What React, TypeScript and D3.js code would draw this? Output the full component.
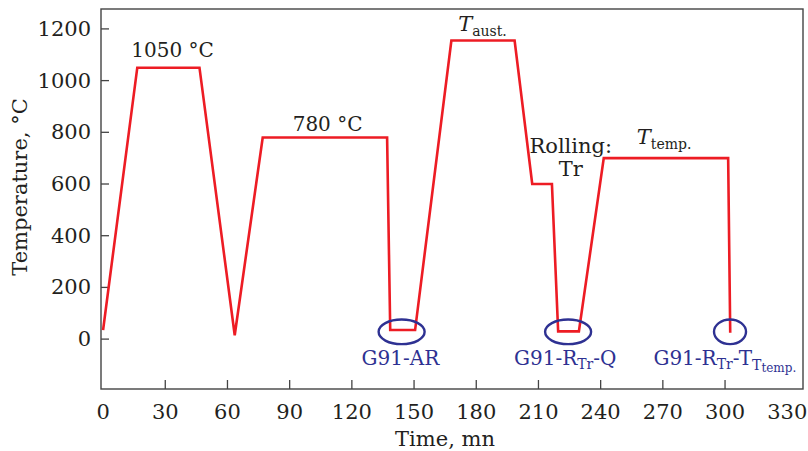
import React from "react";
import * as d3 from "d3";

// heat-treatment schedule (time in minutes, temperature in °C)
const times = [0, 16.5, 46.5, 63.5, 77, 137, 138.5, 150.5, 168, 198.5, 207, 216.5, 219.5, 229.5, 241.5, 301.5, 302.5];
const temps = [35, 1050, 1050, 15, 780, 780, 35, 35, 1155, 1155, 600, 600, 30, 30, 700, 700, 25];

const xTicks = [0, 30, 60, 90, 120, 150, 180, 210, 240, 270, 300, 330];
const yTicks = [0, 200, 400, 600, 800, 1000, 1200];

// sampled states (circled on the curve)
const sampleTimes = [144, 224.3, 302.4];
const sampleTemps = [28, 28, 28];
const sampleNames = ["AR", "Q", "T"];

const W = 808;
const H = 451;
const margin = { top: 9, right: 5, bottom: 62, left: 101 };
const red = "#ed1c24";
const blue = "#2e3192";
const ink = "#231f20";
const font = "'DejaVu Serif', serif";

const App = () => {
  const x = d3.scaleLinear().domain([-1, 337.6]).range([margin.left, W - margin.right]);
  const y = d3.scaleLinear().domain([-193, 1277]).range([H - margin.bottom, margin.top]);

  const pts = times.map((t, i) => [t, temps[i]] as [number, number]);
  const line = d3.line<[number, number]>()
    .x(d => x(d[0]))
    .y(d => y(d[1]));

  const x0 = margin.left, x1 = W - margin.right, y0 = margin.top, y1 = H - margin.bottom;
  const ellipseRx = [23, 23, 16];

  const sub = (s: string, size = 14, dy = 5) => (
    <tspan fontSize={size} dy={dy}>{s}</tspan>
  );

  return (
    <svg width={W} height={H} style={{ position: "absolute", left: 0, top: 0, background: "#fff" }}
      fontFamily={font}>
      <rect x={x0} y={y0} width={x1 - x0} height={y1 - y0} fill="none" stroke="#444" strokeWidth={1.4} />

      {yTicks.map(v => (
        <g key={"y" + v}>
          <line x1={x0} x2={x0 + 8} y1={y(v)} y2={y(v)} stroke="#444" strokeWidth={1.3} />
          <text x={x0 - 10} y={y(v) + 7} textAnchor="end" fontSize={21} fill={ink}>{v}</text>
        </g>
      ))}
      {xTicks.map(v => (
        <g key={"x" + v}>
          {v > 0 && v < 330 && (
            <line x1={x(v)} x2={x(v)} y1={y1} y2={y1 - 9} stroke="#444" strokeWidth={1.3} />
          )}
          <text x={x(v)} y={y1 + 30} textAnchor="middle" fontSize={21} fill={ink}>{v}</text>
        </g>
      ))}

      <text x={445} y={446} textAnchor="middle" fontSize={21} fill={ink}>Time, mn</text>
      <text transform="translate(27,187) rotate(-90)" textAnchor="middle" fontSize={21} fill={ink}>
        Temperature, °C
      </text>

      <path d={line(pts) ?? ""} fill="none" stroke={red} strokeWidth={2.6} strokeLinejoin="miter" />

      {/* annotations */}
      <text x={x(33.5)} y={y(1093)} textAnchor="middle" fontSize={20} fill={ink}>1050 °C</text>
      <text x={x(108.3)} y={y(805)} textAnchor="middle" fontSize={20} fill={ink}>780 °C</text>
      <text x={x(183)} y={y(1192)} textAnchor="middle" fontSize={21} fill={ink}>
        <tspan fontStyle="italic">T</tspan>
        {sub("aust.", 14, 5)}
      </text>
      <text x={x(225.6)} y={y(719)} textAnchor="middle" fontSize={21} fill={ink}>Rolling:</text>
      <text x={x(225.6)} y={y(632)} textAnchor="middle" fontSize={21} fill={ink}>Tr</text>
      <text x={x(270.6)} y={y(755)} textAnchor="middle" fontSize={21} fill={ink}>
        <tspan fontStyle="italic">T</tspan>
        {sub("temp.", 14, 5)}
      </text>

      {sampleTimes.map((t, i) => (
        <ellipse key={"e" + i} cx={x(t)} cy={y(sampleTemps[i])} rx={ellipseRx[i]} ry={12.3}
          fill="none" stroke={blue} strokeWidth={2.4} />
      ))}

      <g fill={blue} fontSize={20} textAnchor="middle">
        <text x={x(143.4)} y={y(-100)}>G91-{sampleNames[0]}</text>
        <text x={x(222.9)} y={y(-100)}>
          G91-R{sub("Tr", 14, 4)}<tspan dy={-4}>-{sampleNames[1]}</tspan>
        </text>
        <text x={x(299.9)} y={y(-100)}>
          G91-R{sub("Tr", 14, 4)}<tspan dy={-4}>-{sampleNames[2]}</tspan>
          {sub("T", 14, 5)}{sub("temp.", 12, 2)}
        </text>
      </g>
    </svg>
  );
};

export default App;
